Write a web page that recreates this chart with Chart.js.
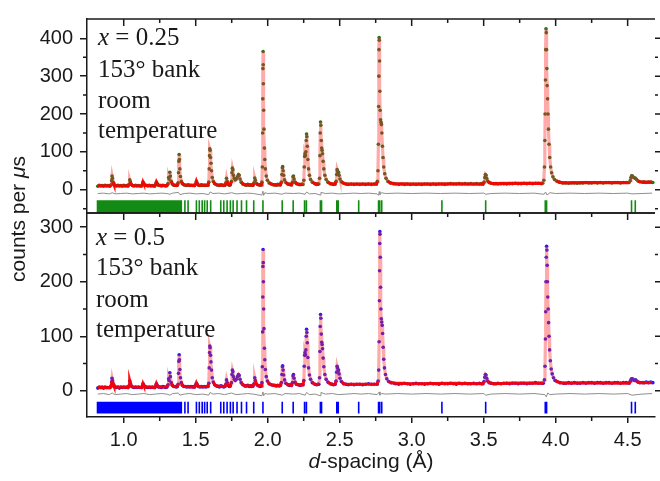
<!DOCTYPE html>
<html>
<head>
<meta charset="utf-8">
<title>Rietveld fits, 153° bank, room temperature</title>
<script src="https://cdn.jsdelivr.net/npm/chart.js@4.4.1/dist/chart.umd.min.js"></script>
<style>
  body { margin: 0; background: #fff; }
  #wrap { position: relative; width: 660px; height: 481px; background: #fff; }
  #wrap canvas { position: absolute; left: 0; top: 0; }
</style>
</head>
<body>
<div id="wrap">
  <canvas id="topPanel" width="660" height="481"></canvas>
  <canvas id="bottomPanel" width="660" height="481"></canvas>
</div>
<script>
'use strict';

// axis ticks
const xMajor = [1.0, 1.5, 2.0, 2.5, 3.0, 3.5, 4.0, 4.5];
const xMinor = [1.25, 1.75, 2.25, 2.75, 3.25, 3.75, 4.25];
const topYMajor = [0, 100, 200, 300, 400];
const topYMinor = [-50, 50, 150, 250, 350];
const botYMajor = [0, 100, 200, 300];
const botYMinor = [50, 150, 250];

// background points between the peaks (d in Å), same d for both panels
const bgD = [
  0.820, 0.830, 0.840, 0.850, 0.860, 0.870, 0.880, 0.890, 0.900,
  0.950, 0.960, 0.970, 0.980, 0.990, 1.000, 1.010, 1.020,
  1.072, 1.082, 1.092, 1.102, 1.112,
  1.158, 1.168, 1.178, 1.188, 1.198, 1.208,
  1.252, 1.262, 1.272, 1.282, 1.292,
  1.358, 1.366,
  1.428, 1.438, 1.448, 1.458, 1.468, 1.478, 1.486,
  1.530, 1.540, 1.550, 1.560, 1.570, 1.578,
  1.655, 1.665, 1.675, 1.685, 1.695,
  1.733,
  1.852, 1.862, 1.872, 1.882, 1.890,
  1.940, 1.948,
  2.050, 2.060, 2.070, 2.080,
  2.150, 2.158,
  2.225, 2.235,
  2.340, 2.348,
  2.448, 2.458,
  2.56, 2.58, 2.60, 2.62, 2.64, 2.66, 2.68, 2.70, 2.72, 2.74,
  2.89, 2.91, 2.93, 2.95, 2.97, 2.99, 3.01, 3.03, 3.05, 3.07,
  3.09, 3.11, 3.13, 3.15, 3.17, 3.19, 3.21, 3.23, 3.25, 3.27,
  3.29, 3.31, 3.33, 3.35, 3.37, 3.39, 3.41, 3.43, 3.45, 3.47, 3.485,
  3.585, 3.60, 3.62, 3.64, 3.66, 3.68, 3.70, 3.72, 3.74, 3.76, 3.78, 3.80, 3.82, 3.84, 3.86, 3.88, 3.90,
  4.07, 4.09, 4.11, 4.13, 4.15, 4.17, 4.19, 4.21, 4.23, 4.25, 4.27,
  4.29, 4.31, 4.33, 4.35, 4.37, 4.39, 4.41, 4.43, 4.45, 4.47, 4.49,
  4.615, 4.630, 4.645, 4.660, 4.675
];
const topBgI = [
  9, 12, 10, 11, 9, 12, 10, 11, 10,
  10, 12, 10, 11, 9, 12, 10, 11,
  10, 12, 10, 11, 10,
  11, 10, 12, 10, 11, 10,
  11, 10, 12, 11, 10,
  12, 11,
  12, 11, 13, 11, 12, 11, 12,
  11, 13, 11, 12, 11, 12,
  12, 11, 13, 12, 11,
  12,
  12, 14, 12, 13, 12,
  13, 12,
  13, 12, 14, 13,
  14, 13,
  13, 14,
  14, 15,
  15, 14,
  14, 15, 14, 15, 14, 15, 14, 15, 14, 15,
  15, 14, 15, 14, 15, 14, 15, 14, 15, 14,
  15, 15, 14, 15, 14, 15, 15, 14, 15, 16,
  15, 15, 16, 15, 16, 15, 16, 15, 16, 15, 16,
  16, 15, 16, 16, 15, 16, 16, 17, 16, 16, 17, 16, 17, 16, 17, 17, 16,
  18, 17, 18, 18, 17, 18, 18, 19, 18, 18, 19,
  18, 19, 18, 19, 19, 18, 19, 19, 18, 19, 19,
  20, 19, 20, 20, 19
];
const botBgI = [
  5, 7, 6, 7, 5, 7, 6, 6, 6,
  6, 7, 5, 7, 6, 7, 6, 7,
  6, 7, 6, 7, 6,
  7, 6, 7, 6, 7, 6,
  7, 6, 8, 7, 6,
  8, 7,
  8, 7, 8, 7, 8, 7, 8,
  7, 8, 7, 8, 7, 8,
  8, 7, 9, 8, 7,
  8,
  9, 10, 8, 9, 8,
  9, 8,
  10, 9, 10, 9,
  10, 11,
  10, 11,
  11, 12,
  12, 11,
  11, 12, 11, 12, 12, 11, 12, 13, 12, 12,
  13, 12, 13, 14, 13, 12, 13, 14, 13, 13,
  12, 13, 14, 13, 13, 12, 14, 13, 13, 14,
  13, 12, 14, 13, 14, 13, 13, 14, 13, 14, 13,
  13, 14, 13, 14, 14, 13, 14, 14, 13, 14, 14, 13, 14, 14, 15, 14, 14,
  14, 15, 14, 15, 14, 14, 15, 14, 15, 15, 14,
  15, 15, 14, 15, 15, 14, 15, 15, 14, 15, 15,
  15, 16, 15, 16, 15
];

// smooth background of the fit
const topCalcBg = [
  [0.82, 10.5], [0.88, 10.5], [1.00, 10.5], [1.10, 10.5], [1.19, 10.5], [1.27, 11],
  [1.36, 11.5], [1.45, 12], [1.55, 12], [1.67, 12], [1.733, 12.5], [1.87, 13],
  [1.94, 13], [2.06, 13.5], [2.155, 14], [2.23, 14], [2.345, 15], [2.455, 15],
  [2.65, 15], [3.00, 15], [3.30, 15.5], [3.70, 16.5], [4.20, 18.5], [4.67, 20]
];
const botCalcBg = [
  [0.82, 6], [0.88, 6], [1.00, 6.5], [1.10, 6.5], [1.19, 6.5], [1.27, 7],
  [1.36, 7.5], [1.45, 7.5], [1.55, 7.5], [1.67, 8], [1.733, 8.5], [1.87, 9],
  [1.94, 9], [2.06, 9.5], [2.155, 10.5], [2.23, 10.5], [2.345, 11.5], [2.455, 11.5],
  [2.65, 12], [3.00, 13], [3.30, 13.5], [3.70, 14], [4.20, 14.5], [4.67, 15]
];

// peak profiles, x = 0.25 (d, counts per µs)
const topPeaks = [
  [0.905, 10], [0.912, 13], [0.916, 24], [0.919, 36], [0.922, 30], [0.926, 20], [0.932, 14], [0.942, 11],
  [1.030, 10], [1.037, 14], [1.042, 26], [1.046, 21], [1.052, 14], [1.062, 11],
  [1.124, 10], [1.130, 14], [1.134, 20], [1.139, 16], [1.148, 12],
  [1.216, 10], [1.222, 14], [1.227, 20], [1.232, 16], [1.242, 12],
  [1.300, 11], [1.308, 16], [1.312, 32], [1.315, 28], [1.320, 46], [1.324, 36], [1.330, 22], [1.338, 15], [1.348, 12],
  [1.372, 12], [1.378, 18], [1.381, 45], [1.383, 75], [1.385, 93], [1.387, 80], [1.390, 55], [1.394, 35],
  [1.400, 22], [1.408, 16], [1.418, 13],
  [1.492, 11], [1.500, 15], [1.505, 22], [1.510, 17], [1.520, 12],
  [1.585, 12], [1.591, 20], [1.594, 55], [1.596, 90], [1.598, 108], [1.600, 104], [1.603, 85], [1.606, 70],
  [1.610, 50], [1.615, 32], [1.622, 22], [1.632, 16], [1.645, 13],
  [1.703, 12], [1.710, 18], [1.714, 30], [1.718, 22], [1.726, 14],
  [1.740, 13], [1.748, 22], [1.752, 45], [1.755, 57], [1.758, 52], [1.762, 38], [1.768, 30], [1.775, 26],
  [1.782, 28], [1.790, 34], [1.797, 40], [1.802, 38], [1.808, 28], [1.816, 20], [1.828, 15], [1.842, 13],
  [1.898, 12], [1.905, 18], [1.910, 31], [1.914, 25], [1.920, 17], [1.930, 14],
  [1.955, 13], [1.960, 20], [1.963, 60], [1.965, 150], [1.966, 240], [1.967, 320], [1.968, 365], [1.969, 330],
  [1.970, 280], [1.972, 210], [1.974, 160], [1.977, 110], [1.980, 80], [1.984, 55], [1.990, 36], [1.998, 25],
  [2.010, 18], [2.025, 15], [2.040, 13],
  [2.088, 13], [2.095, 20], [2.099, 40], [2.102, 58], [2.104, 61], [2.107, 50], [2.111, 38], [2.117, 26], [2.126, 19], [2.140, 15],
  [2.165, 13], [2.172, 20], [2.176, 34], [2.179, 36], [2.183, 28], [2.190, 20], [2.200, 16], [2.215, 14],
  [2.245, 14], [2.251, 25], [2.254, 60], [2.257, 88], [2.259, 95], [2.262, 90], [2.265, 100], [2.268, 130],
  [2.270, 147], [2.272, 140], [2.275, 115], [2.279, 80], [2.284, 55], [2.290, 38], [2.298, 27], [2.310, 20], [2.328, 16],
  [2.355, 15], [2.360, 30], [2.363, 90], [2.365, 150], [2.367, 179], [2.369, 170], [2.372, 130], [2.375, 110],
  [2.378, 104], [2.381, 95], [2.385, 75], [2.390, 55], [2.397, 38], [2.406, 27], [2.418, 20], [2.435, 16],
  [2.468, 15], [2.475, 22], [2.479, 40], [2.482, 53], [2.485, 49], [2.489, 44], [2.492, 46], [2.496, 38],
  [2.502, 28], [2.512, 21], [2.528, 17], [2.545, 15],
  [2.755, 15], [2.762, 22], [2.766, 50], [2.769, 120], [2.771, 220], [2.772, 300], [2.773, 370], [2.774, 402],
  [2.775, 395], [2.777, 340], [2.779, 260], [2.781, 210], [2.784, 185], [2.787, 178], [2.790, 172], [2.793, 150],
  [2.797, 115], [2.801, 85], [2.806, 60], [2.813, 42], [2.822, 30], [2.835, 22], [2.852, 18], [2.875, 16],
  [3.495, 15], [3.503, 20], [3.508, 32], [3.512, 40], [3.516, 38], [3.521, 30], [3.528, 23], [3.538, 19], [3.552, 17], [3.570, 16],
  [3.910, 17], [3.918, 25], [3.922, 60], [3.925, 130], [3.927, 200], [3.929, 290], [3.931, 370], [3.933, 425],
  [3.935, 415], [3.937, 370], [3.939, 320], [3.941, 275], [3.944, 240], [3.947, 200], [3.950, 160], [3.954, 120],
  [3.959, 85], [3.965, 60], [3.972, 45], [3.981, 34], [3.992, 27], [4.006, 23], [4.025, 20], [4.050, 18],
  [4.510, 19], [4.518, 24], [4.523, 32], [4.528, 37], [4.533, 36], [4.540, 33], [4.548, 31], [4.555, 30],
  [4.562, 27], [4.572, 23], [4.585, 21], [4.605, 20]
];

// peak profiles, x = 0.5
const botPeaks = [
  [0.905, 6], [0.912, 9], [0.916, 16], [0.919, 23], [0.922, 19], [0.926, 13], [0.932, 9], [0.942, 7],
  [1.030, 6], [1.037, 9], [1.042, 18], [1.046, 14], [1.052, 9], [1.062, 7],
  [1.124, 6], [1.130, 9], [1.134, 13], [1.139, 10], [1.148, 7],
  [1.216, 6], [1.222, 9], [1.227, 13], [1.232, 10], [1.242, 7],
  [1.300, 7], [1.308, 11], [1.312, 22], [1.315, 19], [1.320, 33], [1.324, 26], [1.330, 15], [1.338, 10], [1.348, 8],
  [1.372, 8], [1.378, 12], [1.381, 32], [1.383, 54], [1.385, 66], [1.387, 57], [1.390, 39], [1.394, 24],
  [1.400, 15], [1.408, 10], [1.418, 8],
  [1.492, 7], [1.500, 10], [1.505, 14], [1.510, 11], [1.520, 8],
  [1.585, 8], [1.591, 14], [1.594, 42], [1.596, 70], [1.598, 82], [1.600, 79], [1.603, 65], [1.606, 53],
  [1.610, 38], [1.615, 24], [1.622, 16], [1.632, 11], [1.645, 9],
  [1.703, 8], [1.710, 12], [1.714, 20], [1.718, 15], [1.726, 10],
  [1.740, 9], [1.748, 15], [1.752, 30], [1.755, 38], [1.758, 35], [1.762, 26], [1.768, 21], [1.775, 19],
  [1.782, 21], [1.790, 26], [1.797, 30], [1.802, 28], [1.808, 21], [1.816, 15], [1.828, 11], [1.842, 9],
  [1.898, 9], [1.905, 13], [1.910, 24], [1.914, 19], [1.920, 13], [1.930, 10],
  [1.955, 9], [1.960, 15], [1.963, 44], [1.965, 108], [1.966, 172], [1.967, 228], [1.968, 259], [1.969, 235],
  [1.970, 200], [1.972, 150], [1.974, 114], [1.977, 78], [1.980, 57], [1.984, 39], [1.990, 26], [1.998, 18],
  [2.010, 13], [2.025, 11], [2.040, 10],
  [2.088, 10], [2.095, 15], [2.099, 30], [2.102, 44], [2.104, 46], [2.107, 38], [2.111, 29], [2.117, 20], [2.126, 14], [2.140, 11],
  [2.165, 10], [2.172, 15], [2.176, 27], [2.179, 30], [2.183, 23], [2.190, 16], [2.200, 12], [2.215, 11],
  [2.245, 11], [2.251, 19], [2.254, 45], [2.257, 65], [2.259, 70], [2.262, 66], [2.265, 75], [2.268, 100],
  [2.270, 113], [2.272, 107], [2.275, 88], [2.279, 61], [2.284, 42], [2.290, 29], [2.298, 21], [2.310, 15], [2.328, 12],
  [2.355, 12], [2.360, 24], [2.363, 72], [2.365, 118], [2.367, 140], [2.369, 133], [2.372, 104], [2.375, 89],
  [2.378, 85], [2.381, 77], [2.385, 60], [2.390, 44], [2.397, 30], [2.406, 21], [2.418, 16], [2.435, 13],
  [2.468, 12], [2.475, 18], [2.479, 34], [2.482, 45], [2.485, 42], [2.489, 37], [2.492, 38], [2.496, 31],
  [2.502, 23], [2.512, 17], [2.528, 13], [2.545, 12],
  [2.760, 12], [2.767, 18], [2.771, 38], [2.774, 90], [2.776, 165], [2.777, 220], [2.778, 270], [2.779, 292],
  [2.780, 287], [2.782, 245], [2.784, 190], [2.786, 150], [2.789, 132], [2.792, 126], [2.795, 120], [2.798, 105],
  [2.802, 80], [2.806, 58], [2.811, 42], [2.818, 30], [2.827, 22], [2.840, 17], [2.857, 15], [2.880, 14],
  [3.495, 13], [3.503, 17], [3.508, 25], [3.512, 30], [3.516, 29], [3.521, 23], [3.528, 18], [3.538, 15], [3.552, 14], [3.570, 13],
  [3.914, 14], [3.922, 20], [3.926, 45], [3.929, 95], [3.931, 145], [3.933, 200], [3.935, 245], [3.937, 265],
  [3.939, 258], [3.941, 230], [3.943, 200], [3.945, 172], [3.948, 150], [3.951, 125], [3.954, 100], [3.958, 75],
  [3.963, 55], [3.969, 40], [3.976, 31], [3.985, 24], [3.996, 19], [4.010, 17], [4.030, 15], [4.055, 14],
  [4.510, 14], [4.518, 17], [4.523, 20], [4.528, 22], [4.533, 22], [4.540, 20], [4.548, 19], [4.555, 20],
  [4.562, 18], [4.572, 16], [4.585, 15], [4.605, 15]
];

// observed minus calculated, shifted below zero
const topDiff = [
  [0.82, -10], [0.86, -9], [0.90, -11], [0.92, -8], [0.94, -11], [0.98, -10], [1.02, -9], [1.06, -11],
  [1.10, -10], [1.14, -9], [1.18, -11], [1.22, -10], [1.26, -9], [1.30, -10], [1.32, -12], [1.34, -9],
  [1.38, -7], [1.39, -13], [1.42, -10], [1.46, -9], [1.50, -11], [1.55, -10], [1.59, -13], [1.60, -6],
  [1.62, -10], [1.66, -9], [1.70, -11], [1.75, -8], [1.78, -11], [1.82, -10], [1.86, -9], [1.90, -10],
  [1.96, -14], [1.967, -4], [1.972, -15], [1.98, -8], [2.00, -10], [2.05, -9], [2.10, -12], [2.12, -9],
  [2.18, -10], [2.22, -9], [2.26, -12], [2.27, -6], [2.29, -11], [2.33, -10], [2.365, -14], [2.37, -7],
  [2.40, -10], [2.45, -9], [2.49, -11], [2.55, -10], [2.60, -9], [2.65, -10], [2.70, -9], [2.76, -11],
  [2.77, -15], [2.775, -5], [2.78, -13], [2.79, -8], [2.82, -10], [2.90, -9], [3.00, -10], [3.10, -9],
  [3.20, -10], [3.30, -9], [3.40, -10], [3.50, -9], [3.515, -12], [3.55, -10], [3.65, -9], [3.75, -10],
  [3.85, -9], [3.92, -12], [3.93, -6], [3.94, -14], [3.96, -8], [4.00, -10], [4.10, -9], [4.20, -10],
  [4.30, -9], [4.40, -10], [4.50, -9], [4.53, -11], [4.60, -10], [4.67, -9]
];
const botDiff = [
  [0.82, -6], [0.86, -5], [0.90, -7], [0.92, -4], [0.94, -7], [0.98, -6], [1.02, -5], [1.06, -7],
  [1.10, -6], [1.14, -5], [1.18, -7], [1.22, -6], [1.26, -5], [1.30, -6], [1.32, -8], [1.34, -5],
  [1.38, -4], [1.39, -8], [1.42, -6], [1.46, -5], [1.50, -7], [1.55, -6], [1.59, -8], [1.60, -3],
  [1.62, -6], [1.66, -5], [1.70, -7], [1.75, -4], [1.78, -7], [1.82, -6], [1.86, -5], [1.90, -6],
  [1.96, -9], [1.967, -2], [1.972, -9], [1.98, -5], [2.00, -6], [2.05, -5], [2.10, -8], [2.12, -5],
  [2.18, -6], [2.22, -5], [2.26, -8], [2.27, -3], [2.29, -7], [2.33, -6], [2.365, -9], [2.37, -3],
  [2.40, -6], [2.45, -5], [2.49, -7], [2.55, -6], [2.60, -5], [2.65, -6], [2.70, -5], [2.76, -7],
  [2.775, -2], [2.78, -8], [2.79, -5], [2.82, -6], [2.90, -5], [3.00, -6], [3.10, -5], [3.20, -6],
  [3.30, -5], [3.40, -6], [3.50, -5], [3.515, -8], [3.55, -6], [3.65, -5], [3.75, -6], [3.85, -5],
  [3.925, -7], [3.935, -11], [3.945, -4], [3.96, -7], [4.00, -6], [4.10, -5], [4.20, -6], [4.30, -5],
  [4.40, -6], [4.50, -5], [4.53, -8], [4.60, -6], [4.67, -5]
];

// reflection positions (Å)
const reflections = [
  0.818, 0.826, 0.833, 0.839, 0.846, 0.853, 0.861, 0.868, 0.874, 0.881, 0.889, 0.896,
  0.903, 0.910, 0.917, 0.925, 0.932, 0.939, 0.946, 0.954, 0.961, 0.968, 0.976, 0.983,
  0.991, 0.998, 1.006, 1.013, 1.021, 1.028, 1.036, 1.044, 1.051, 1.059, 1.067, 1.075,
  1.083, 1.091, 1.099, 1.107, 1.115, 1.124, 1.132, 1.140, 1.149, 1.157, 1.166, 1.175,
  1.184, 1.192, 1.201, 1.210, 1.219, 1.229, 1.238, 1.247, 1.257, 1.266, 1.276, 1.286,
  1.296, 1.306, 1.316, 1.327, 1.337, 1.348, 1.358, 1.369, 1.380, 1.391, 1.400,
  1.425, 1.447, 1.505, 1.525, 1.545, 1.562, 1.580, 1.604,
  1.674, 1.695, 1.718, 1.741, 1.760, 1.787, 1.818, 1.853, 1.903, 1.967,
  2.101, 2.177, 2.256, 2.269, 2.366, 2.374, 2.480, 2.490, 2.632,
  2.770, 2.778, 2.792, 3.210, 3.514, 3.928, 3.937, 4.527, 4.553
];

const INK = '#1a1a1a';
const SANS = '21px "Liberation Sans", Arial, sans-serif';
const SANS_IT = 'italic 21px "Liberation Sans", Arial, sans-serif';
const SERIF = '25px "Liberation Serif", "Times New Roman", serif';
const SERIF_IT = 'italic 25px "Liberation Serif", "Times New Roman", serif';

function toPoints(pairs) {
  return pairs.map(p => ({x: p[0], y: p[1]}));
}

function bySpacing(a, b) {
  return a.x - b.x;
}

function hklSegments(list, top, bottom) {
  let pts = [];
  list.forEach(d => {
    pts.push({x: d, y: top}, {x: d, y: bottom}, {x: d, y: null});
  });
  return pts;
}

function richWidth(ctx, parts) {
  let w = 0;
  parts.forEach(p => { ctx.font = p[1]; w += ctx.measureText(p[0]).width; });
  return w;
}

function drawRich(ctx, parts, x, y) {
  let cx = x;
  parts.forEach(p => {
    ctx.font = p[1];
    ctx.fillText(p[0], cx, y);
    cx += ctx.measureText(p[0]).width;
  });
}

// frame, extra ticks and the text of one panel
function makeFrame(cfg) {
  return {
    id: 'panelFrame',
    afterDraw(chart) {
      const ctx = chart.ctx;
      const a = chart.chartArea;
      const xs = chart.scales.x;
      const ys = chart.scales.y;
      ctx.save();
      ctx.strokeStyle = INK;
      ctx.lineWidth = 1.5;
      ctx.beginPath();
      ctx.moveTo(a.left, a.top);
      ctx.lineTo(a.right, a.top);
      if (cfg.closeBottom) {
        ctx.moveTo(a.left, a.bottom);
        ctx.lineTo(a.right, a.bottom);
      }
      xMajor.forEach(v => {
        let px = xs.getPixelForValue(v);
        ctx.moveTo(px, a.top);
        ctx.lineTo(px, a.top + 7);
      });
      xMinor.forEach(v => {
        let px = xs.getPixelForValue(v);
        ctx.moveTo(px, a.top);
        ctx.lineTo(px, a.top + 4);
        if (cfg.bottomMinor) {
          ctx.moveTo(px, a.bottom);
          ctx.lineTo(px, a.bottom + 4);
        }
      });
      cfg.yMinor.forEach(v => {
        let py = ys.getPixelForValue(v);
        ctx.moveTo(a.left - 4, py);
        ctx.lineTo(a.left, py);
        ctx.moveTo(a.right, py);
        ctx.lineTo(a.right + 3, py);
      });
      cfg.yMajor.forEach(v => {
        let py = ys.getPixelForValue(v);
        ctx.moveTo(a.right, py);
        ctx.lineTo(a.right + 5, py);
      });
      ctx.stroke();

      ctx.fillStyle = INK;
      ctx.textAlign = 'left';
      ctx.textBaseline = 'alphabetic';
      cfg.label.forEach((parts, i) => drawRich(ctx, parts, cfg.labelX, cfg.labelY[i]));

      if (cfg.titles) {
        let xt = [['d', SANS_IT], ['-spacing (Å)', SANS]];
        drawRich(ctx, xt, (a.left + a.right) / 2 - richWidth(ctx, xt) / 2, 468);
        let yt = [['counts per ', SANS], ['μ', SANS_IT], ['s', SANS]];
        ctx.translate(25, 219);
        ctx.rotate(-Math.PI / 2);
        drawRich(ctx, yt, -richWidth(ctx, yt) / 2, 0);
      }
      ctx.restore();
    }
  };
}

function yAxis(min, max, ticks) {
  return {
    type: 'linear',
    min: min,
    max: max,
    afterBuildTicks: s => { s.ticks = ticks.map(v => ({value: v})); },
    afterFit: s => { s.width = 87; },
    ticks: {font: {family: '"Liberation Sans", Arial', size: 20}, color: INK, padding: 7},
    grid: {drawOnChartArea: false, tickLength: 7, color: INK, lineWidth: 1.5},
    border: {color: INK, width: 1.5}
  };
}

function panelData(bgI, peaks, calcBg, diff, dotColor, hklColor, hklTop, hklBottom, flatBelow) {
  let obs = bgD.map((d, i) => ({x: d, y: bgI[i]})).concat(toPoints(peaks)).sort(bySpacing);
  let calc = toPoints(calcBg).concat(toPoints(peaks)).sort(bySpacing);
  return {
    datasets: [
      // fit line: solid red along the background, pale over the peaks
      {label: 'calculated', data: calc, showLine: true, borderWidth: 3.2, pointRadius: 0, order: 1,
        borderColor: 'rgba(255,0,0,0.45)',
        segment: {
          borderColor: c => (c.p0.parsed.y < flatBelow && c.p1.parsed.y < flatBelow ?
            'rgba(255,0,0,0.92)' : 'rgba(255,40,40,0.4)')
        }},
      {label: 'observed', data: obs, showLine: false, pointRadius: 1.8, pointBorderWidth: 0,
        pointBackgroundColor: dotColor, pointBorderColor: dotColor, order: 2},
      {label: 'difference', data: toPoints(diff), showLine: true, borderColor: '#8e8e8e',
        borderWidth: 1, pointRadius: 0, order: 3},
      {label: 'reflections', data: hklSegments(reflections, hklTop, hklBottom), showLine: true,
        borderColor: hklColor, borderWidth: 1.6, pointRadius: 0, spanGaps: false, order: 4}
    ]
  };
}

Chart.defaults.font.family = '"Liberation Sans", Arial, sans-serif';

let topChart = new Chart(document.getElementById('topPanel'), {
  type: 'scatter',
  data: panelData(topBgI, topPeaks, topCalcBg, topDiff, '#1d761d', '#138a13', -28, -62, 24),
  options: {
    responsive: false,
    animation: false,
    events: [],
    devicePixelRatio: 1,
    layout: {padding: {left: 0, right: 5, top: 13, bottom: 268}},
    plugins: {legend: {display: false}, tooltip: {enabled: false}},
    scales: {
      x: {type: 'linear', min: 0.745, max: 4.69, display: false},
      y: yAxis(-61.5, 451, topYMajor)
    }
  },
  plugins: [makeFrame({
    closeBottom: true, bottomMinor: false, yMajor: topYMajor, yMinor: topYMinor,
    label: [[['x', SERIF_IT], [' = 0.25', SERIF]], [['153° bank', SERIF]], [['room', SERIF]], [['temperature', SERIF]]],
    labelX: 98, labelY: [45, 77, 108, 138], titles: false
  })]
});

let bottomChart = new Chart(document.getElementById('bottomPanel'), {
  type: 'scatter',
  data: panelData(botBgI, botPeaks, botCalcBg, botDiff, '#1a1aff', '#0000ff', -20, -41.5, 20),
  options: {
    responsive: false,
    animation: false,
    events: [],
    devicePixelRatio: 1,
    layout: {padding: {left: 0, right: 5, top: 213, bottom: 0}},
    plugins: {legend: {display: false}, tooltip: {enabled: false}},
    scales: {
      x: {
        type: 'linear',
        min: 0.745,
        max: 4.69,
        afterBuildTicks: s => { s.ticks = xMajor.map(v => ({value: v})); },
        afterFit: s => { s.height = 64; },
        ticks: {font: {family: '"Liberation Sans", Arial', size: 20}, color: INK, padding: 5,
          maxRotation: 0, autoSkip: false, callback: v => v.toFixed(1)},
        grid: {drawOnChartArea: false, tickLength: 6, color: INK, lineWidth: 1.5},
        border: {color: INK, width: 1.5}
      },
      y: yAxis(-48, 326, botYMajor)
    }
  },
  plugins: [makeFrame({
    closeBottom: false, bottomMinor: true, yMajor: botYMajor, yMinor: botYMinor,
    label: [[['x', SERIF_IT], [' = 0.5', SERIF]], [['153° bank', SERIF]], [['room', SERIF]], [['temperature', SERIF]]],
    labelX: 96, labelY: [245, 275, 307, 337], titles: true
  })]
});
</script>
</body>
</html>
